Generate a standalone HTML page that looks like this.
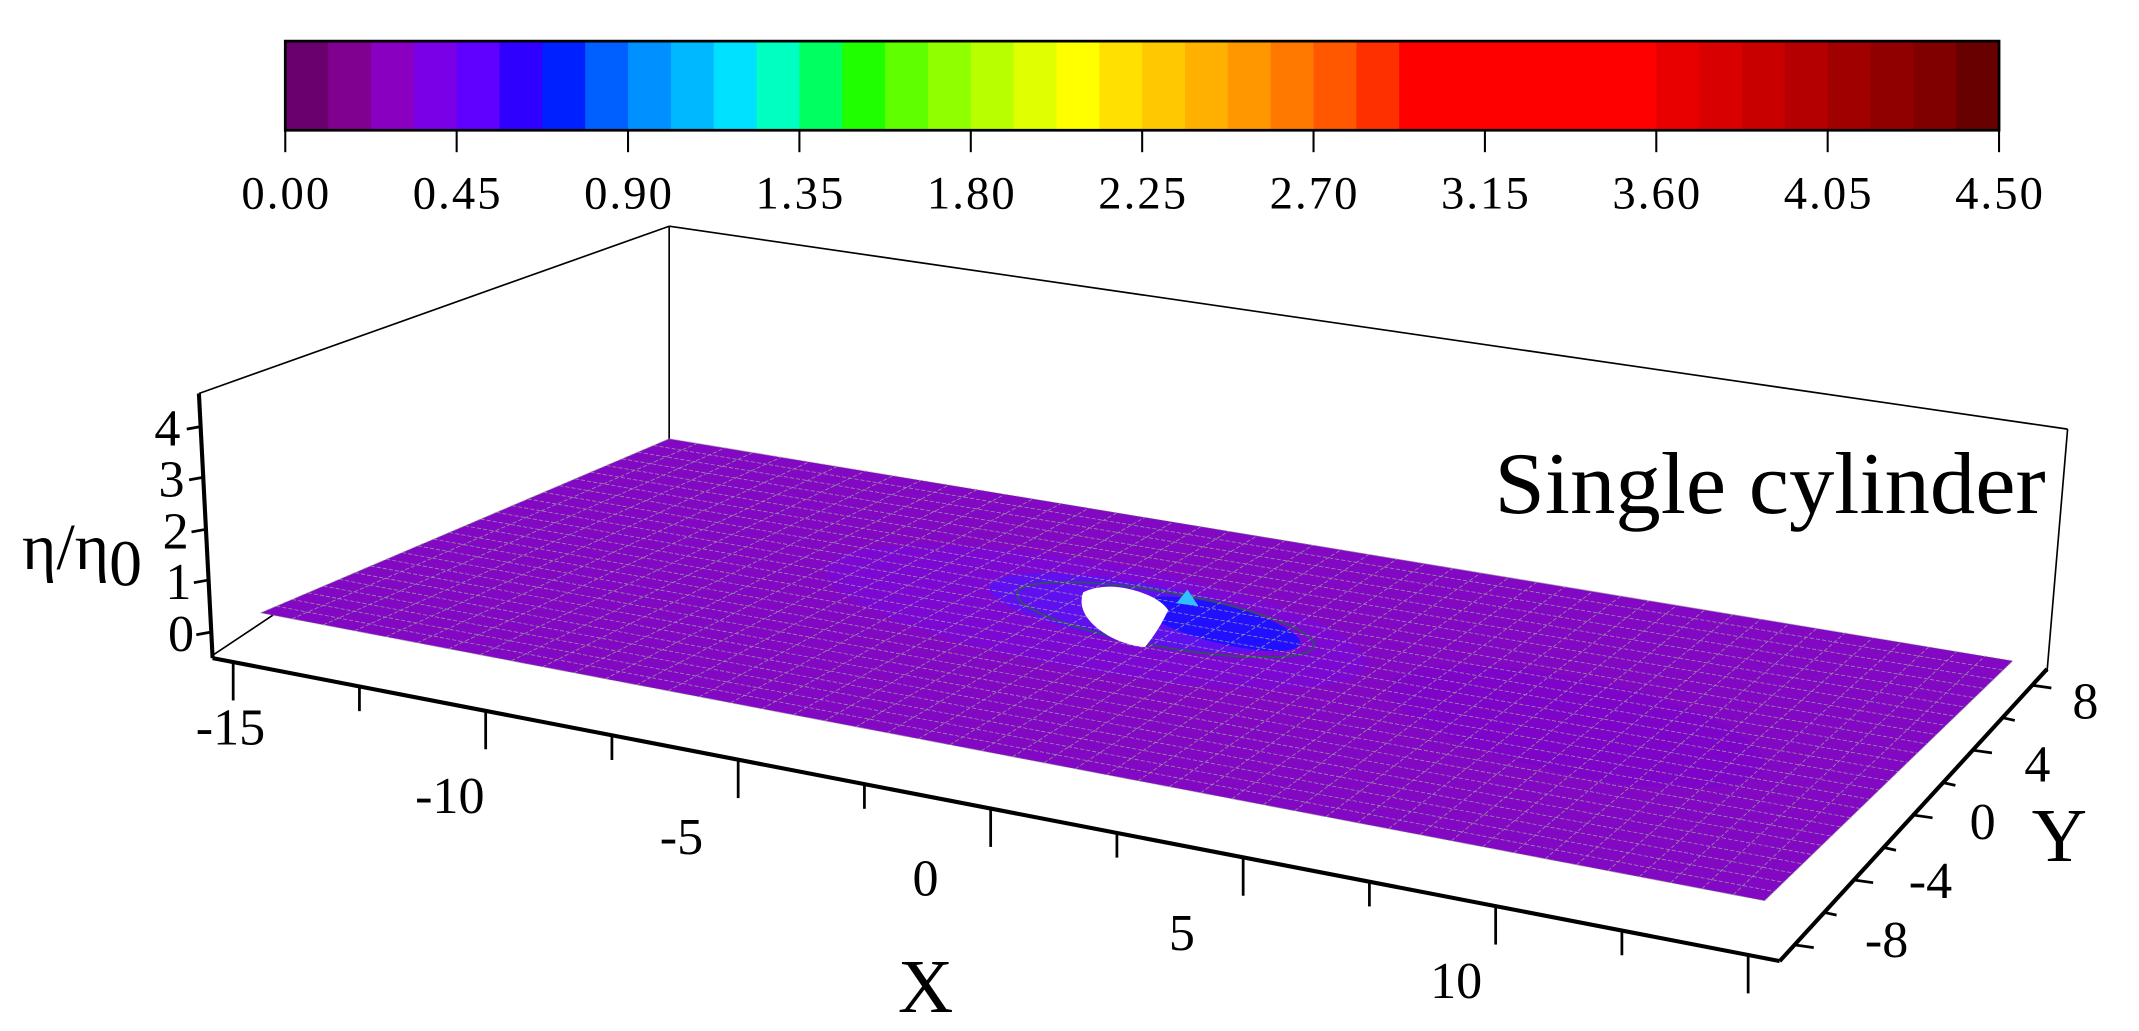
<!DOCTYPE html>
<html><head><meta charset="utf-8"><style>
html,body{margin:0;padding:0;background:#fff;width:2139px;height:1031px;overflow:hidden}
svg{display:block}
text{font-family:"Liberation Serif",serif;fill:#000}
</style></head><body>
<svg id="s" width="2139" height="1031" viewBox="0 0 1560 752" xmlns="http://www.w3.org/2000/svg">
<g id="cb"></g>
<rect x="208" y="30" width="1250" height="65" fill="none" stroke="#000" stroke-width="2"/>
<g id="cbt" stroke="#000" stroke-width="1.5"></g>
<g font-size="34" text-anchor="middle">
<text x="208" y="152" textLength="64">0.00</text><text x="333" y="152" textLength="64">0.45</text><text x="458" y="152" textLength="64">0.90</text><text x="583" y="152" textLength="64">1.35</text><text x="708" y="152" textLength="64">1.80</text><text x="833" y="152" textLength="64">2.25</text><text x="958" y="152" textLength="64">2.70</text><text x="1083" y="152" textLength="64">3.15</text><text x="1208" y="152" textLength="64">3.60</text><text x="1333" y="152" textLength="64">4.05</text><text x="1458" y="152" textLength="64">4.50</text>
</g>
<g stroke="#000" stroke-width="1.2" fill="none">
<line x1="145" y1="287" x2="488" y2="165"/>
<line x1="488" y1="165" x2="488" y2="330"/>
<line x1="488" y1="165" x2="1508" y2="313"/>
<line x1="1508" y1="313" x2="1493" y2="490"/>
<line x1="155" y1="478" x2="200" y2="448"/>
</g>
<g id="surf"></g>
<g stroke="#000" stroke-width="3" fill="none">
<line x1="145" y1="287" x2="155" y2="480"/>
<line x1="155" y1="480" x2="1298" y2="701"/>
<line x1="1298" y1="701" x2="1493" y2="488"/>
</g>
<g id="ticks" stroke="#000" stroke-width="2"></g>
<g font-size="38" text-anchor="middle">
<text x="122" y="325">4</text><text x="125" y="362">3</text><text x="128" y="400">2</text><text x="130" y="437">1</text><text x="132" y="475">0</text>
<text x="168" y="543">-15</text><text x="328" y="593">-10</text><text x="497" y="623">-5</text><text x="675" y="653">0</text><text x="862" y="693">5</text><text x="1062" y="728">10</text>
<text x="1521" y="524">8</text><text x="1486" y="570">4</text><text x="1446" y="612">0</text><text x="1408" y="655">-4</text><text x="1376" y="698">-8</text>
</g>
<text x="675" y="738" font-size="56" text-anchor="middle">X</text>
<text x="1502" y="628" font-size="56" text-anchor="middle">Y</text>
<text x="16" y="415" font-size="48">η/η<tspan dy="12">0</tspan></text>
<text x="1090" y="374" font-size="64" textLength="402" lengthAdjust="spacingAndGlyphs">Single cylinder</text>
</svg>
<script>
var NS="http://www.w3.org/2000/svg";
function el(p,t,a){var e=document.createElementNS(NS,t);for(var k in a)e.setAttribute(k,a[k]);p.appendChild(e);return e;}
var cols=["#6a006e","#800090","#8a00c0","#7a00e8","#6000ff","#3000ff","#0020ff","#0060ff","#0090ff","#00b8ff","#00e0ff","#00ffc0","#00ff60","#20ff00","#60ff00","#90ff00","#b8ff00","#e0ff00","#ffff00","#ffe000","#ffc800","#ffb000","#ff9800","#ff7800","#ff5800","#ff3000"];
for(var i=0;i<6;i++)cols.push("#ff0000");
cols=cols.concat(["#e80000","#d80000","#c80000","#b40000","#a00000","#900000","#800000","#680000"]);
var cb=document.getElementById("cb"),w=1250/cols.length;
for(var i=0;i<cols.length;i++)el(cb,"rect",{x:208+i*w,y:30,width:w+0.4,height:65,fill:cols[i]});
var cbt=document.getElementById("cbt");
for(var i=0;i<=10;i++)el(cbt,"line",{x1:208+i*125,y1:95,x2:208+i*125,y2:111});
var A=[190,447],B=[488,320],C=[1468,482],D=[1287,657];
function P(u,v){
 var fx=A[0]+(D[0]-A[0])*u, fy=A[1]+(D[1]-A[1])*u, bx=B[0]+(C[0]-B[0])*u, by=B[1]+(C[1]-B[1])*u;
 return [fx+(bx-fx)*v, fy+(by-fy)*v];}
var s=document.getElementById("surf");
el(s,"polygon",{points:[A,B,C,D].map(function(p){return p.join(",")}).join(" "),fill:"#8208c4"});
el(s,"ellipse",{cx:1150,cy:530,rx:140,ry:35,fill:"#7a00d0",opacity:0.5,transform:"rotate(12 1150 530)"});
el(s,"ellipse",{cx:800,cy:450,rx:200,ry:40,fill:"#7a08e0",opacity:0.6,transform:"rotate(10 800 450)"});
el(s,"ellipse",{cx:830,cy:447,rx:110,ry:22,fill:"#6010f0",transform:"rotate(10 830 447)"});
el(s,"ellipse",{cx:890,cy:455,rx:60,ry:14,fill:"#2010ff",transform:"rotate(14 890 455)"});
el(s,"ellipse",{cx:850,cy:452,rx:110,ry:20,fill:"none",stroke:"#305060",'stroke-width':1.3,transform:"rotate(10 850 452)"});
var g=el(s,"g",{stroke:"#9a9a9a","stroke-width":0.6,"stroke-dasharray":"3 1.5",opacity:0.9});
for(var i=0;i<=48;i++){var a=P(i/48,0),b=P(i/48,1);el(g,"line",{x1:a[0],y1:a[1],x2:b[0],y2:b[1]});}
for(var j=0;j<=26;j++){var a=P(0,j/26),b=P(1,j/26);el(g,"line",{x1:a[0],y1:a[1],x2:b[0],y2:b[1]});}
el(s,"path",{d:"M790,432 Q805,425 825,430 Q845,435 852,445 Q845,460 835,472 Q815,470 800,458 Q785,445 790,432Z",fill:"#fff"});
el(s,"path",{d:"M858,440 L866,430 L874,442 Z",fill:"#30c0ff"});
var t=document.getElementById("ticks");
[311,348,386,423,461].forEach(function(y){var x=146+(y-287)/(480-287)*9;el(t,"line",{x1:x,y1:y,x2:x-11,y2:y+2});});
for(var i=0;i<=12;i++){var x=170+(1275-170)*(i/12);var y=480+(x-155)*(221/1143);
 el(t,"line",{x1:x,y1:y,x2:x,y2:y+(i%2==0?28:18)});}
for(var k=0;k<=8;k++){var x=1298+(1493-1298)*((k+0.5)/9), y=701+(488-701)*((k+0.5)/9);
 el(t,"line",{x1:x,y1:y,x2:x+(k%2==0?14:9),y2:y+2});}
</script>
</body></html>
